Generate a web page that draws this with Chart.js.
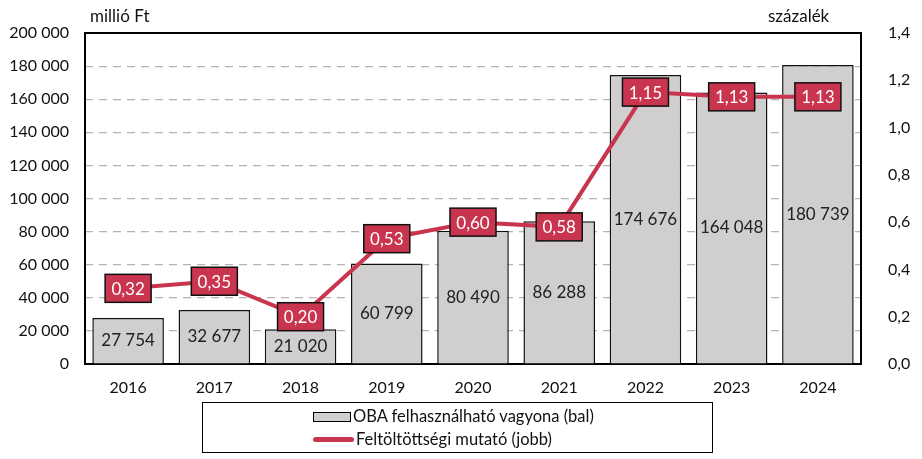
<!DOCTYPE html>
<html>
<head>
<meta charset="utf-8">
<script src="https://cdn.jsdelivr.net/npm/chart.js@4"></script>
<style>
  body { margin: 0; background: #fff; }
  #wrap { position: relative; width: 922px; height: 459px; font-family: Lato, "Open Sans", sans-serif; color: #111; }
  canvas { position: absolute; left: 0; top: 0; }
  .unit { position: absolute; top: 5px; font-size: 17px; }
  #legend { position: absolute; left: 202px; top: 402px; width: 509px; height: 49px; border: 1.5px solid #000; font-size: 16.5px; }
  .row { position: absolute; left: 110px; height: 20px; line-height: 20px; white-space: nowrap; }
  .sw-bar { display: inline-block; width: 36px; height: 8px; background: #d0cece; border: 1.5px solid #000; vertical-align: middle; margin-right: 2px; position: relative; top: -1px; }
  .sw-line { display: inline-block; width: 41px; height: 5px; background: #c9344f; border-radius: 3px; vertical-align: middle; margin-right: 2px; position: relative; top: -1px; }
</style>
</head>
<body>
<div id="wrap">
  <canvas id="chart" width="922" height="459"></canvas>
  <div class="unit" style="left:90px">millió Ft</div>
  <div class="unit" style="left:768px">százalék</div>
  <div id="legend">
    <div class="row" style="top:3px"><span class="sw-bar"></span>OBA felhasználható vagyona (bal)</div>
    <div class="row" style="top:26px"><span class="sw-line"></span>Feltöltöttségi mutató (jobb)</div>
  </div>
</div>
<script>
const years = ['2016', '2017', '2018', '2019', '2020', '2021', '2022', '2023', '2024'];
const assets = [27754, 32677, 21020, 60799, 80490, 86288, 174676, 164048, 180739];
const ratio = [0.32, 0.35, 0.20, 0.53, 0.60, 0.58, 1.15, 1.13, 1.13];

const FONT = 'Lato, "Open Sans", sans-serif';
const RED = '#c9344f';

function huNum(v) {
  return String(Math.round(v)).replace(/\B(?=(\d{3})+(?!\d))/g, '\u00a0');
}
function huDec(v, d) {
  return v.toFixed(d).replace('.', ',');
}

const frame = {
  id: 'frame',
  beforeDatasetsDraw(chart) {
    const a = chart.chartArea, ctx = chart.ctx;
    ctx.save();
    ctx.strokeStyle = '#000';
    ctx.lineWidth = 2;
    ctx.strokeRect(a.left, a.top, a.right - a.left, a.bottom - a.top);
    ctx.restore();
  }
};

const labels = {
  id: 'labels',
  afterDatasetsDraw(chart) {
    const ctx = chart.ctx;
    ctx.save();
    ctx.textAlign = 'center';
    ctx.textBaseline = 'middle';
    ctx.font = '17px ' + FONT;
    // bar values in the middle of each bar
    const bars = chart.getDatasetMeta(0);
    bars.data.forEach((el, i) => {
      ctx.fillStyle = '#222';
      ctx.fillText(huNum(assets[i]), el.x, (el.y + el.base) / 2);
    });
    // boxed ratio labels
    const pts = chart.getDatasetMeta(1);
    pts.data.forEach((el, i) => {
      const w = 46, h = 28;
      ctx.fillStyle = RED;
      ctx.fillRect(el.x - w / 2, el.y - h / 2, w, h);
      ctx.strokeStyle = '#111';
      ctx.lineWidth = 1.5;
      ctx.strokeRect(el.x - w / 2, el.y - h / 2, w, h);
      ctx.fillStyle = '#fff';
      ctx.fillText(huDec(ratio[i], 2), el.x, el.y + 1);
    });
    ctx.restore();
  }
};

new Chart(document.getElementById('chart'), {
  data: {
    labels: years,
    datasets: [
      {
        type: 'bar',
        label: 'OBA felhasználható vagyona (bal)',
        data: assets,
        yAxisID: 'y',
        backgroundColor: '#d0cece',
        borderColor: '#111',
        borderWidth: 1.5,
        barPercentage: 0.83,
        categoryPercentage: 1,
        order: 2
      },
      {
        type: 'line',
        label: 'Feltöltöttségi mutató (jobb)',
        data: ratio,
        yAxisID: 'y1',
        borderColor: RED,
        borderWidth: 4,
        pointRadius: 0,
        tension: 0,
        order: 1
      }
    ]
  },
  options: {
    responsive: false,
    animation: false,
    layout: { padding: { top: 33, bottom: 59, left: 0, right: 0 } },
    plugins: { legend: { display: false }, tooltip: { enabled: false } },
    scales: {
      x: {
        grid: { display: false },
        border: { display: false },
        ticks: { color: '#111', font: { family: FONT, size: 16 }, padding: 6 },
        afterFit(s) { s.height = 36; }
      },
      y: {
        position: 'left',
        min: 0, max: 200000,
        ticks: { stepSize: 20000, color: '#111', font: { family: FONT, size: 16 }, padding: 16, callback: v => huNum(v) },
        grid: { drawTicks: false, color: '#b4b4b4', lineWidth: 1.2 },
        border: { display: false, dash: [8, 6] },
        afterFit(s) { s.width = 85; }
      },
      y1: {
        position: 'right',
        min: 0, max: 1.4,
        ticks: { stepSize: 0.2, color: '#111', font: { family: FONT, size: 16 }, padding: 19, callback: v => huDec(v, 1) },
        grid: { display: false },
        border: { display: false },
        afterFit(s) { s.width = 61; }
      }
    }
  },
  plugins: [frame, labels]
});
</script>
</body>
</html>
